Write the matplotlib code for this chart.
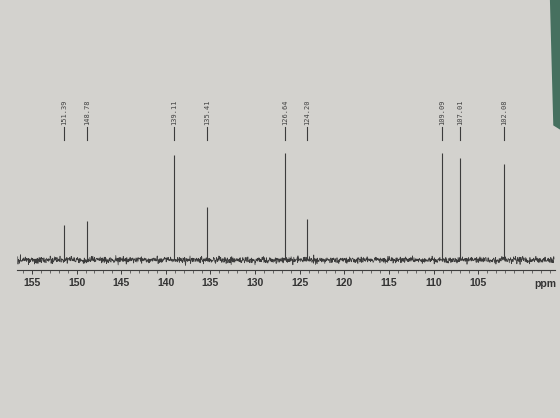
import numpy as np
import matplotlib.pyplot as plt
from matplotlib.patches import Polygon

# 13C NMR peak list (ppm) and peak heights
peak_ppm = [151.39, 148.78, 139.11, 135.41, 126.64, 124.20, 109.09, 107.01, 102.08]
peak_height = [35, 39, 105, 53, 107, 41, 107, 102, 96]
tick_values = [155, 150, 145, 140, 135, 130, 125, 120, 115, 110, 105]

fig = plt.figure(figsize=(5.6, 4.18), dpi=100)
fig.patch.set_facecolor("#d3d2ce")

# green desk showing at the top right corner of the photo
fig.patches.append(Polygon([[0.982, 1.0], [1.0, 1.0], [1.0, 0.69], [0.988, 0.70]],
                           closed=True, transform=fig.transFigure,
                           facecolor="#46705f", edgecolor="none"))

ax = fig.add_axes([0.030, 0.354, 0.961, 0.43])
ax.set_facecolor("none")
ax.set_xlim(156.7, 96.4)
ax.set_ylim(-10, 170)

# baseline noise of the spectrum (texture only)
rng = np.random.default_rng(3)
x_noise = np.linspace(156.6, 96.5, 1800)
y_noise = rng.normal(0, 1.6, x_noise.size)
ax.plot(x_noise, y_noise, color="#3c3c3c", lw=0.5)

# peaks
ax.vlines(peak_ppm, 0, peak_height, color="#3c3c3c", lw=0.8)

# peak labels with short leader lines
for p in peak_ppm:
    ax.plot([p, p], [120, 133], color="#3c3c3c", lw=0.8)
    ax.text(p, 135, f"{p:.2f}", rotation=90, ha="center", va="bottom",
            fontsize=5, family="DejaVu Sans Mono", color="#444444")

for side in ["top", "left", "right"]:
    ax.spines[side].set_visible(False)
ax.spines["bottom"].set_color("#3c3c3c")
ax.spines["bottom"].set_linewidth(0.8)
ax.set_yticks([])
ax.set_xticks(tick_values)
ax.set_xticks(np.arange(97, 157), minor=True)
ax.tick_params(axis="x", which="major", length=3, width=0.7, color="#3c3c3c",
               labelsize=7.5, labelcolor="#333333", pad=3)
ax.tick_params(axis="x", which="minor", length=2, width=0.5, color="#3c3c3c")
for lbl in ax.get_xticklabels():
    lbl.set_fontfamily("Liberation Sans")
    lbl.set_fontweight("bold")

fig.text(545 / 560, 1 - 284 / 418, "ppm", ha="center", va="center",
         fontsize=7.5, fontweight="bold", family="Liberation Sans", color="#333333")

fig.savefig("out.png", dpi=100, facecolor=fig.get_facecolor())
